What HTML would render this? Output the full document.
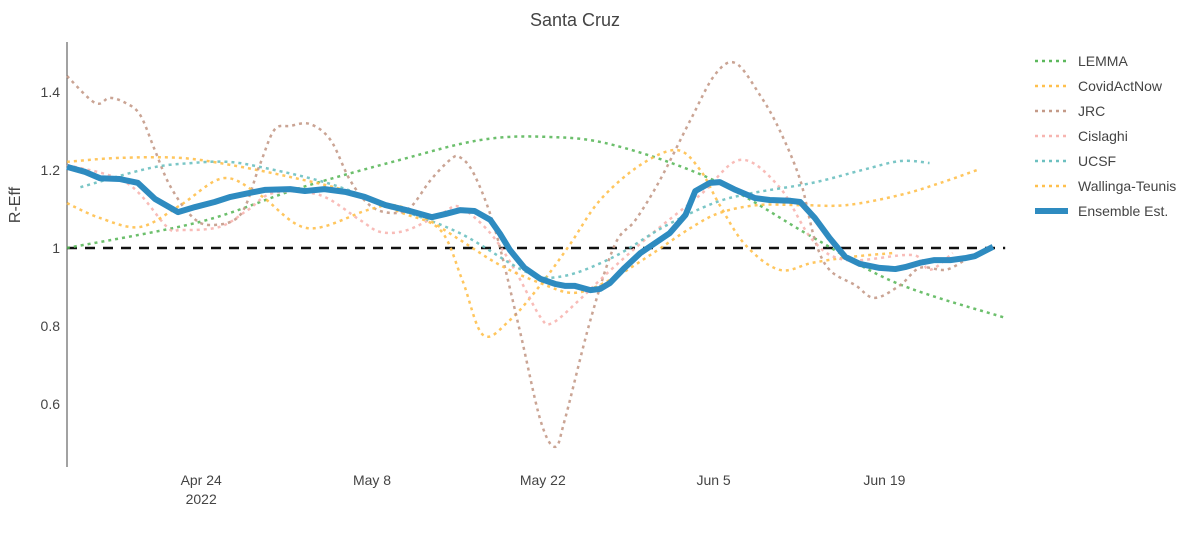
<!DOCTYPE html>
<html><head><meta charset="utf-8"><style>
body{margin:0;background:#fff;font-family:"Liberation Sans",sans-serif;}
svg text{font-family:"Liberation Sans",sans-serif;}
</style></head><body>
<svg id="chart" width="1200" height="536" xmlns="http://www.w3.org/2000/svg">
<text x="575" y="26" text-anchor="middle" font-size="18" fill="#444">Santa Cruz</text>
<text transform="translate(20,205) rotate(-90)" text-anchor="middle" font-size="16" fill="#444">R-Eff</text>
<line x1="67" y1="42" x2="67" y2="467" stroke="#444" stroke-width="1"/>
<g id="yticks"></g><g id="xticks"></g><g id="series"></g><g id="legend"></g>
</svg>
<script>
// x = days since Apr 13 2022
const xTickDays=[11,25,39,53,67];
const xTickLabels=["Apr 24","May 8","May 22","Jun 5","Jun 19"];
const yTicks=[0.6,0.8,1,1.2,1.4];
const yTickLabels=["0.6","0.8","1","1.2","1.4"];
const seriesNames=["LEMMA","CovidActNow","JRC","Cislaghi","UCSF","Wallinga-Teunis","Ensemble Est."];
const lemmaDays=[0,10.9,19.1,27.3,33.9,39.3,44.8,53.0,61.1,68.0,76.9];
const lemmaVals=[1.0,1.067,1.154,1.226,1.277,1.285,1.264,1.174,1.028,0.910,0.821];
const canDays=[0,4.3,9.3,13.4,18.3,23.2,27.3,30.6,32.4,34.1,36.3,38.8,41.2,43.7,47.0,50.0,51.9,53.5,55.6,58.4,61.1,64.2,67.7];
const canVals=[1.221,1.231,1.231,1.213,1.182,1.144,1.092,1.046,0.918,0.777,0.815,0.905,1.008,1.123,1.213,1.251,1.200,1.110,1.008,0.944,0.962,0.977,0.987];
const jrcDays=[0,2.3,3.5,4.8,6,7.2,8.4,10.1,11.7,14.2,15.8,17,18.3,19.9,21.6,23.2,24.8,26.5,28.1,29.8,31.4,32.2,33.4,35.1,37.1,38.8,40,40.8,42.9,44.9,46.6,48.6,51.1,53.1,54.8,56.8,58.4,60.1,61.3,62.5,64.6,66.2,68.3,69.9,72,73.6];
const jrcVals=[1.441,1.372,1.385,1.372,1.341,1.251,1.162,1.085,1.059,1.085,1.213,1.303,1.313,1.318,1.277,1.174,1.110,1.090,1.103,1.174,1.226,1.233,1.187,1.046,0.790,0.559,0.490,0.559,0.815,1.008,1.072,1.174,1.328,1.444,1.474,1.392,1.303,1.174,1.021,0.944,0.905,0.872,0.905,0.949,0.944,0.969];
const cisDays=[0,4.9,8.2,9.3,12.5,14.8,16.9,20.7,24.0,25.7,27.9,30.8,32.2,34.7,36.7,38.8,39.8,42.0,44.3,48.0,51.9,55.2,58.4,61.1,63.9,69.3,70.7,72.6];
const cisVals=[1.213,1.167,1.054,1.046,1.054,1.097,1.141,1.136,1.072,1.041,1.046,1.090,1.105,1.038,0.944,0.823,0.808,0.867,0.936,1.038,1.136,1.226,1.156,1.021,0.969,0.982,0.944,0.987];
const ucsfDays=[1.1,6.8,10.3,13.1,15.8,21.3,26.7,32.2,37.7,40.7,44.8,48.9,53.0,56.2,61.1,65.2,68.3,70.7];
const ucsfVals=[1.156,1.205,1.218,1.221,1.208,1.167,1.105,1.038,0.938,0.928,0.977,1.054,1.115,1.141,1.167,1.200,1.223,1.218];
const wtDays=[0,2.7,6.0,9.3,12.8,15.8,19.7,24.6,26.7,28.9,32.2,35.5,38.8,41.6,44.5,47.8,51.1,53.5,56.6,60.1,63.9,68.3,71.6,74.6];
const wtVals=[1.115,1.077,1.054,1.110,1.179,1.136,1.051,1.097,1.110,1.085,1.021,0.956,0.910,0.885,0.918,0.982,1.051,1.090,1.110,1.110,1.110,1.136,1.167,1.200];
const ensDays=[0,1.5,2.7,4.3,5.8,7.2,9.1,10.5,12.1,13.4,16.2,18.3,19.5,21.1,22.8,24.4,26.1,28.1,29.9,31,32.2,33.4,34.7,35.5,36.3,37.5,38.8,40,40.8,41.6,42.9,43.7,44.5,45.7,47,48.6,49.4,50.7,51.5,52.7,53.5,54.8,56.4,57.6,59.3,60.1,61.3,62.5,63.8,65,66.6,67.9,68.7,69.9,71.1,72.4,73.6,74.4,75.9];
const ensVals=[1.208,1.195,1.179,1.177,1.167,1.126,1.092,1.105,1.118,1.131,1.149,1.151,1.146,1.151,1.144,1.131,1.110,1.095,1.079,1.087,1.097,1.095,1.072,1.036,0.995,0.949,0.921,0.908,0.903,0.903,0.892,0.895,0.910,0.949,0.987,1.021,1.038,1.085,1.146,1.167,1.169,1.149,1.128,1.123,1.121,1.118,1.077,1.026,0.977,0.959,0.949,0.946,0.951,0.962,0.969,0.969,0.974,0.979,1.003];
const refDays=[0,76.9];
const refVals=[1,1];

const X=d=>67+d*12.2;
const Y=v=>248-(v-1)*390;
const NS="http://www.w3.org/2000/svg";
const svg=document.getElementById('chart');
function mk(tag,attrs,parent){const e=document.createElementNS(NS,tag);for(const k in attrs)e.setAttribute(k,attrs[k]);parent.appendChild(e);return e;}
const yg=document.getElementById('yticks');
yTicks.forEach((v,i)=>{const t=mk('text',{x:60,y:Y(v)+5,'text-anchor':'end','font-size':14,fill:'#444'},yg);


t.textContent=yTickLabels[i];});
const xg=document.getElementById('xticks');
xTickDays.forEach((d,i)=>{const t=mk('text',{x:X(d),y:485,'text-anchor':'middle','font-size':14,fill:'#444'},xg);


t.textContent=xTickLabels[i];});
const yr=mk('text',{x:X(xTickDays[0]),y:504,'text-anchor':'middle','font-size':14,fill:'#444'},xg);


yr.textContent="2022";
function smooth(ds,vs){const p=ds.map((d,i)=>[X(d),Y(vs[i])]);let s=`M${p[0][0]},${p[0][1]}`;
for(let i=0;i<p.length-1;i++){const p0=p[Math.max(0,i-1)],p1=p[i],p2=p[i+1],p3=p[Math.min(p.length-1,i+2)];
s+=` C${p1[0]+(p2[0]-p0[0])/6},${p1[1]+(p2[1]-p0[1])/6} ${p2[0]-(p3[0]-p1[0])/6},${p2[1]-(p3[1]-p1[1])/6} ${p2[0]},${p2[1]}`;}return s;}
function lin(ds,vs){return ds.map((d,i)=>(i?'L':'M')+X(d)+','+Y(vs[i])).join(' ');}
const sg=document.getElementById('series');
const dotted=[
 [lemmaDays,lemmaVals,'#5cb85c','lemma-line'],
 [canDays,canVals,'#ffc04d','covidactnow-line'],
 [jrcDays,jrcVals,'#c49a88','jrc-line'],
 [cisDays,cisVals,'#f7b5b0','cislaghi-line'],
 [ucsfDays,ucsfVals,'#6cc0c0','ucsf-line'],
 [wtDays,wtVals,'#ffc04d','wallinga-teunis-line']];
const ref=mk('path',{d:lin(refDays,refVals),stroke:'#111',fill:'none','stroke-width':2.5,'stroke-dasharray':'10,8'},sg);


dotted.forEach(s=>{const p=mk('path',{d:smooth(s[0],s[1]),stroke:s[2],fill:'none','stroke-width':2.5,'stroke-dasharray':'3,4','stroke-opacity':0.9},sg);

});
const ens=mk('path',{d:lin(ensDays,ensVals),stroke:'#2e8bc0',fill:'none','stroke-width':6,'stroke-linejoin':'round'},sg);


const lg=document.getElementById('legend');
const lc=['#5cb85c','#ffc04d','#c49a88','#f7b5b0','#6cc0c0','#ffc04d','#2e8bc0'];
seriesNames.forEach((n,i)=>{const y=61+i*25;const g=mk('g',{},lg);


const ens=i===6;
mk('line',{x1:1035,y1:y,x2:1068,y2:y,stroke:lc[i],'stroke-width':ens?6:2.5,'stroke-dasharray':ens?'none':'3,4'},g);
const t=mk('text',{x:1078,y:y+5,'font-size':14,fill:'#444'},g);t.textContent=n;});
</script>
</body></html>
